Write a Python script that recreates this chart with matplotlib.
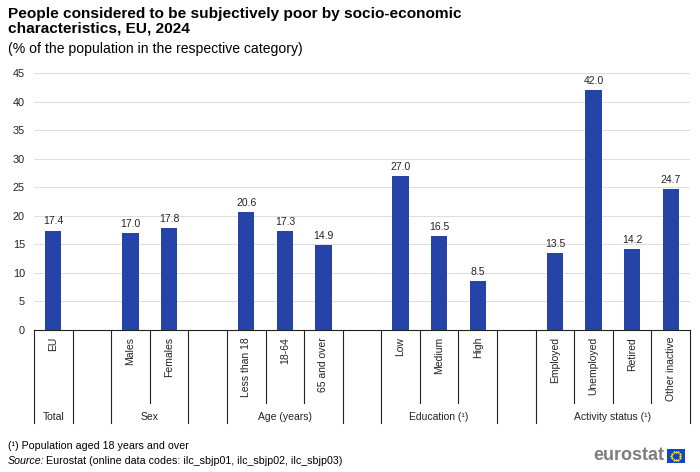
import numpy as np
import matplotlib
matplotlib.use('Agg')
from matplotlib import pyplot as plt
from matplotlib import transforms

plt.rcParams['font.family'] = ['Liberation Sans', 'DejaVu Sans']

# data
groups = ['Total', 'Sex', 'Age (years)', 'Education (¹)', 'Activity status (¹)']
categories = [['EU'],
              ['Males', 'Females'],
              ['Less than 18', '18-64', '65 and over'],
              ['Low', 'Medium', 'High'],
              ['Employed', 'Unemployed', 'Retired', 'Other inactive']]
values = [[17.4],
          [17.0, 17.8],
          [20.6, 17.3, 14.9],
          [27.0, 16.5, 8.5],
          [13.5, 42.0, 14.2, 24.7]]

bar_col = '#2644a7'

fig = plt.figure(figsize=(7, 4.72), dpi=100)
ax = fig.add_axes([0.0486, 0.3008, 0.9371, 0.5445])

# positions: one empty slot between groups
pos = 0
xs, vals, labs, group_spans = [], [], [], []
for g, (cats, vv) in enumerate(zip(categories, values)):
    start = pos
    for c, v in zip(cats, vv):
        xs.append(pos)
        vals.append(v)
        labs.append(c)
        pos += 1
    group_spans.append((start, pos - 1))
    pos += 1
nslots = pos - 1

ax.bar(xs, vals, width=0.42, color=bar_col, zorder=3)
for x, v in zip(xs, vals):
    ax.annotate('%.1f' % v, (x, v), xytext=(0, 3), textcoords='offset points',
                ha='center', va='bottom', fontsize=7.5, color='#222222')

ax.set_xlim(-0.5, nslots - 0.5)
ax.set_ylim(0, 45)
ax.set_yticks(np.arange(0, 46, 5))
ax.tick_params(axis='y', length=0, labelsize=7.8, pad=6.5, labelcolor='#222222')
ax.set_xticks([])
ax.grid(axis='y', color='#dddddd', linewidth=0.7, zorder=0)
for s in ['left', 'right', 'top']:
    ax.spines[s].set_visible(False)
ax.spines['bottom'].set_color('#222222')
ax.spines['bottom'].set_linewidth(0.8)

trans = transforms.blended_transform_factory(ax.transData, ax.transAxes)
inner_y = -0.284
outer_y = -0.362

# category labels
for x, l in zip(xs, labs):
    ax.text(x, -0.027, l, transform=trans, rotation=90, ha='center', va='top',
            fontsize=7.5, color='#222222')

# separator lines
for (a, b) in group_spans:
    for edge in (a - 0.5, b + 0.5):
        ax.plot([edge, edge], [0, outer_y], transform=trans, color='#222222',
                lw=0.8, clip_on=False)
    for k in range(a, b):
        ax.plot([k + 0.5, k + 0.5], [0, inner_y], transform=trans, color='#222222',
                lw=0.8, clip_on=False)

for g, (a, b) in zip(groups, group_spans):
    ax.text((a + b) / 2.0, -0.339, g, transform=trans, ha='center', va='center',
            fontsize=7.5, color='#222222')

# titles
fig.text(0.011, 0.985, 'People considered to be subjectively poor by socio-economic\ncharacteristics, EU, 2024',
         ha='left', va='top', fontsize=11.1, fontweight='bold', linespacing=1.05)
fig.text(0.011, 0.91, '(% of the population in the respective category)',
         ha='left', va='top', fontsize=10.1)

# footer
fig.text(0.011, 0.056, '(¹) Population aged 18 years and over', ha='left', va='center', fontsize=7.7)
fig.text(0.011, 0.024, 'Source:', ha='left', va='center', fontsize=7.7, style='italic')
fig.text(0.065, 0.024, 'Eurostat (online data codes: ilc_sbjp01, ilc_sbjp02, ilc_sbjp03)',
         ha='left', va='center', fontsize=7.7)

# logo
fig.text(0.949, 0.034, 'eurostat', ha='right', va='center', fontsize=13,
         fontweight='bold', color='#7b7d80')
lax = fig.add_axes([0.953, 0.019, 0.025, 0.03])
lax.set_xlim(-1.2, 1.2)
lax.set_ylim(-1, 1)
lax.set_facecolor('#0e47cb')
lax.set_xticks([])
lax.set_yticks([])
for s in lax.spines.values():
    s.set_visible(False)
ang = np.linspace(0, 2 * np.pi, 13)[:-1]
lax.scatter(0.6 * np.cos(ang), 0.6 * np.sin(ang), s=0.4, color='#ffdd00', marker='*')

fig.savefig('out.png', dpi=100)
